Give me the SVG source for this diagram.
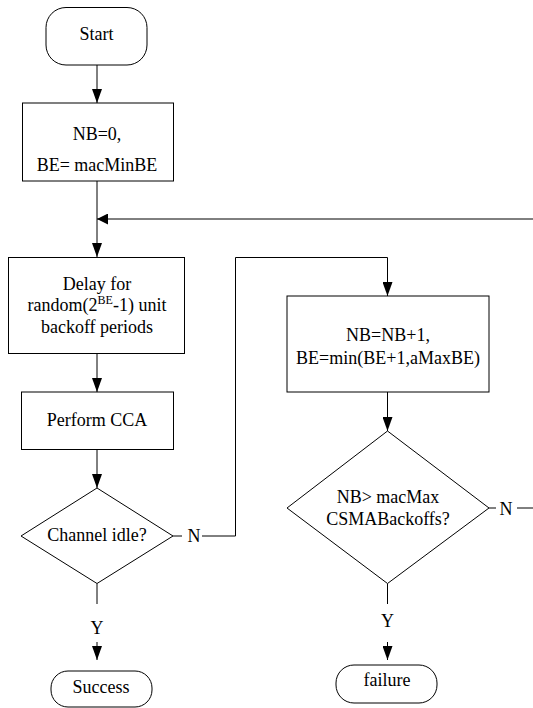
<svg xmlns="http://www.w3.org/2000/svg" width="533" height="708" viewBox="0 0 533 708">
<style>
.s{fill:#fff;stroke:#000;stroke-width:1}
text{font-family:'Liberation Serif','Times New Roman',serif;font-size:18px;fill:#000;text-anchor:middle}
.c{fill:none;stroke:#000;stroke-width:1}
.a{marker-end:url(#arr)}
.b{marker-end:url(#arrL)}
</style>
<defs>
<marker id="arr" markerUnits="userSpaceOnUse" markerWidth="14" markerHeight="10" refX="14" refY="5" orient="auto">
<path d="M0,0 L14,5 L0,10 z" fill="#000"/>
</marker>
<marker id="arrL" markerUnits="userSpaceOnUse" markerWidth="11" markerHeight="11" refX="11" refY="5.5" orient="auto">
<path d="M0,0 L11,5.5 L0,11 z" fill="#000"/>
</marker>
</defs>
<rect width="533" height="708" fill="#fff"/>
<g id="connectors">
<line class="c a" x1="97" y1="65" x2="97" y2="103"/>
<line class="c a" x1="97" y1="181" x2="97" y2="257"/>
<line class="c b" x1="533" y1="219" x2="97" y2="219"/>
<line class="c a" x1="97" y1="353.5" x2="97" y2="392"/>
<line class="c a" x1="97" y1="449.5" x2="97" y2="488"/>
<line class="c" x1="173" y1="536" x2="182" y2="536"/>
<text x="194" y="542">N</text>
<polyline class="c a" points="202,536 235.5,536 235.5,257.5 387.5,257.5 387.5,296"/>
<line class="c a" x1="387.5" y1="392" x2="387.5" y2="431"/>
<line class="c" x1="489" y1="508" x2="496" y2="508"/>
<text x="506" y="515">N</text>
<line class="c" x1="517" y1="508" x2="533" y2="508"/>
<line class="c" x1="97" y1="583.5" x2="97" y2="604"/>
<text x="97" y="634">Y</text>
<line class="c a" x1="97" y1="642" x2="97" y2="660"/>
<line class="c" x1="387.5" y1="583.5" x2="387.5" y2="604"/>
<text x="387.5" y="627">Y</text>
<line class="c a" x1="387.5" y1="642" x2="387.5" y2="660"/>
</g>
<g id="start">
<rect class="s" x="46" y="7.5" width="101" height="57.5" rx="20" ry="20"/>
<text x="96.5" y="39.5">Start</text>
</g>
<g id="init">
<rect class="s" x="22.5" y="103" width="151" height="78"/>
<text x="97" y="139.5">NB=0,</text>
<text x="97" y="171">BE= macMinBE</text>
</g>
<g id="delay">
<rect class="s" x="8.5" y="257.5" width="176" height="96"/>
<text x="97" y="289.5">Delay for</text>
<text x="97" y="311">random(2<tspan font-size="12" dy="-7">BE</tspan><tspan dy="7">-1) unit</tspan></text>
<text x="97" y="332.5">backoff periods</text>
</g>
<g id="cca">
<rect class="s" x="21.5" y="392" width="152" height="57.5"/>
<text x="97" y="426">Perform CCA</text>
</g>
<g id="idle">
<polygon class="s" points="97,488 173,536 97,583.5 21,536"/>
<text x="97" y="541">Channel idle?</text>
</g>
<g id="inc">
<rect class="s" x="287" y="296" width="202" height="96"/>
<text x="388" y="341">NB=NB+1,</text>
<text x="388" y="363.5">BE=min(BE+1,aMaxBE)</text>
</g>
<g id="maxcheck">
<polygon class="s" points="387.5,431 489,508 387.5,583.5 287,508"/>
<text x="388" y="502.5">NB&gt; macMax</text>
<text x="388" y="524.5">CSMABackoffs?</text>
</g>
<g id="success">
<rect class="s" x="51" y="671" width="101" height="36" rx="17" ry="17"/>
<text x="101" y="693">Success</text>
</g>
<g id="failure">
<rect class="s" x="336" y="665" width="101" height="38" rx="18" ry="18"/>
<text x="387" y="686">failure</text>
</g>
</svg>
